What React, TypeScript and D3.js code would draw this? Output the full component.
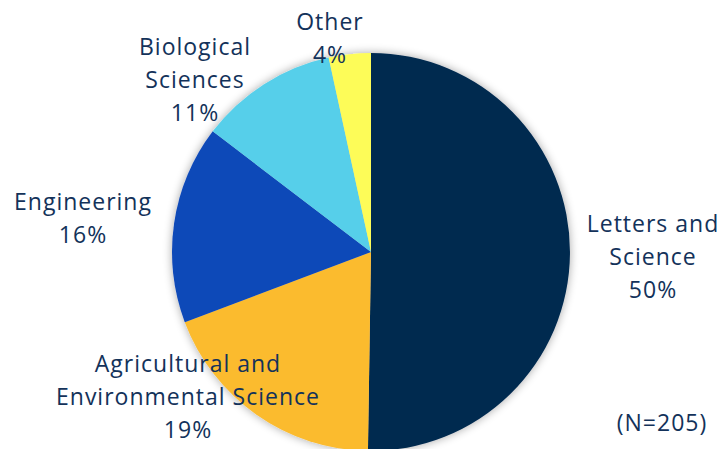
import React from "react";
import * as d3 from "d3";

const categories = ["Letters and Science", "Agricultural and Environmental Science", "Engineering", "Biological Sciences", "Other"];
const counts = [103, 39, 33, 23, 7];
const percentLabels = ["50%", "19%", "16%", "11%", "4%"];
const colors = ["#022a4f", "#fbbb2f", "#1048b8", "#56cfea", "#fdfc58"];
const labelLines = [
  ["Letters and", "Science", "50%"],
  ["Agricultural and", "Environmental Science", "19%"],
  ["Engineering", "16%"],
  ["Biological", "Sciences", "11%"],
  ["Other", "4%"],
];
const labelAnchors = [
  [653, 232],
  [188, 372],
  [83, 210],
  [195, 55],
  [330, 30],
];
const totalNote = "(N=205)";

export default function App() {
  const W = 720, H = 449;
  const cx = 371, cy = 252, r = 199;
  const pie = d3.pie<number>().sort(null).value((d) => d)(counts);
  const arc = d3.arc<d3.PieArcDatum<number>>().innerRadius(0).outerRadius(r);
  const textColor = "#13325a";
  const font = "'Open Sans', sans-serif";
  const fs = 23;
  const ls = 1;
  return (
    <svg width={W} height={H} style={{ position: "absolute", left: 0, top: 0 }}>
      <defs>
        <filter id="sh" x="-20%" y="-20%" width="140%" height="140%">
          <feGaussianBlur in="SourceAlpha" stdDeviation="5" />
          <feOffset dx="0" dy="0" result="b" />
          <feComponentTransfer><feFuncA type="linear" slope="0.35" /></feComponentTransfer>
          <feMerge><feMergeNode /><feMergeNode in="SourceGraphic" /></feMerge>
        </filter>
      </defs>
      <rect width={W} height={H} fill="#fff" />
      <g transform={`translate(${cx},${cy})`} filter="url(#sh)">
        {pie.map((p, i) => (
          <path key={categories[i]} d={arc(p) || ""} fill={colors[i]} />
        ))}
      </g>
      {labelLines.map((lines, i) => (
        <text key={i} x={labelAnchors[i][0]} y={labelAnchors[i][1]} textAnchor="middle" fill={textColor} fontFamily={font} fontSize={fs} letterSpacing={ls}>
          {lines.map((l, j) => (
            <tspan key={j} x={labelAnchors[i][0]} dy={j === 0 ? 0 : 33}>{l}</tspan>
          ))}
        </text>
      ))}
      <text x={662} y={431} textAnchor="middle" fill={textColor} fontFamily={font} fontSize={fs} letterSpacing={ls}>{totalNote}</text>
    </svg>
  );
}
